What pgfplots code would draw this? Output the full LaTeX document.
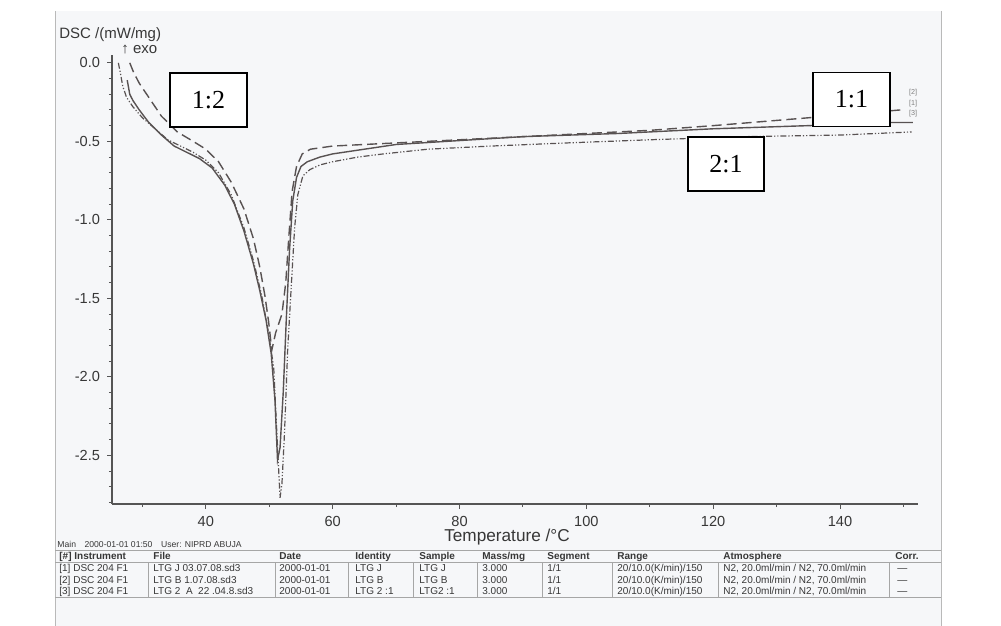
\documentclass[border=0pt]{standalone}
\usepackage{pgfplots}
\pgfplotsset{compat=1.18}
\usepackage{fontspec}
\setmainfont{Liberation Sans}
\newfontfamily\timesf{Liberation Serif}
\definecolor{ink}{RGB}{88,82,82}
\definecolor{txt}{RGB}{55,55,55}
\definecolor{page}{RGB}{246,247,249}
\newcommand\tf{\fontsize{5}{6}\selectfont}
\tikzset{tc/.style={anchor=base west,inner sep=0pt,font=\tf,text=txt}}
\newcommand\trow[9]{%
  \node[tc] at (59,{\ty+3.6}) {#1};
  \node[tc] at (153,{\ty+3.6}) {#2};
  \node[tc] at (279,{\ty+3.6}) {#3};
  \node[tc] at (355,{\ty+3.6}) {#4};
  \node[tc] at (419,{\ty+3.6}) {#5};
  \node[tc] at (482,{\ty+3.6}) {#6};
  \node[tc] at (547,{\ty+3.6}) {#7};
  \node[tc] at (617,{\ty+3.6}) {#8};
  \node[tc] at (723,{\ty+3.6}) {#9};
}
\begin{document}
\begin{tikzpicture}
\useasboundingbox (0,0) rectangle (500.5pt,-313pt);
\begin{scope}[x=0.5pt,y=-0.5pt]
\fill[page] (55,11) rectangle (941,626);
\draw[gray!55, line width=0.4pt] (55,11) -- (55,626) (941,11) -- (941,626);
\end{scope}

\begin{axis}[at={(56pt,-252pt)}, anchor=south west, scale only axis,
  width=403pt, height=224.5pt,
  xmin=25.2, xmax=152.3, ymin=-2.81, ymax=0.05,
  axis x line*=bottom, axis y line*=left,
  axis line style={txt!85, line width=0.7pt, -},
  xtick={40,60,...,140}, minor xtick={30,50,...,150},
  ytick={-2.5,-2,-1.5,-1,-0.5,0}, minor ytick={-2.8,-2.7,...,0.0},
  tick align=outside, major tick length=2.5pt, minor tick length=1.6pt,
  every tick/.style={txt!85, line width=0.5pt},
  ticklabel style={font=\fontsize{7.3}{8}\selectfont, text=txt},
  /pgf/number format/assume math mode=true,
  yticklabel style={/pgf/number format/.cd, fixed, fixed zerofill, precision=1},
  clip=false]
% [1] solid
\addplot[ink, line width=0.7pt] coordinates {
(27.6,-0.11) (28.0,-0.20) (28.5,-0.24) (29.5,-0.30) (31.0,-0.38) (33.0,-0.46)
(35.0,-0.53) (37.0,-0.57) (39.0,-0.61) (41.0,-0.67) (43.0,-0.78) (44.5,-0.90)
(46.0,-1.07) (47.5,-1.28) (48.5,-1.45) (49.5,-1.64) (50.3,-1.85) (50.9,-2.15)
(51.3,-2.53) (51.7,-2.45) (52.2,-2.10) (52.7,-1.62) (53.2,-1.19) (53.7,-0.88)
(54.3,-0.73) (55.0,-0.66) (56.0,-0.63) (58.0,-0.60) (60.0,-0.58) (65.0,-0.55)
(70.0,-0.52) (78.0,-0.50) (90.0,-0.47) (105.0,-0.45) (120.0,-0.42) (135.0,-0.40)
(148.0,-0.38) (151.5,-0.38)};
% [2] dashed
\addplot[ink, line width=0.7pt, dash pattern=on 5pt off 2.5pt] coordinates {
(28.0,0.00) (28.6,-0.06) (29.5,-0.13) (31.0,-0.22) (33.0,-0.34) (35.5,-0.44)
(38.0,-0.50) (40.0,-0.55) (42.0,-0.63) (44.0,-0.76) (46.0,-0.93) (47.5,-1.12)
(48.5,-1.30) (49.3,-1.48) (49.9,-1.65) (50.4,-1.83) (51.0,-1.72) (52.0,-1.60)
(52.6,-1.40) (53.1,-1.10) (53.6,-0.82) (54.3,-0.66) (55.2,-0.58) (56.5,-0.55)
(60.0,-0.53) (65.0,-0.52) (70.0,-0.51) (80.0,-0.49) (90.0,-0.47) (100.0,-0.45)
(110.0,-0.43) (120.0,-0.40) (135.0,-0.35) (149.5,-0.30)};
% [3] dash-dot-dot
\addplot[ink, line width=0.6pt, dash pattern=on 3pt off 1pt on 0.6pt off 1pt on 0.6pt off 1pt] coordinates {
(26.2,0.00) (26.5,-0.06) (26.9,-0.15) (27.5,-0.22) (28.5,-0.28) (30.0,-0.35)
(32.0,-0.42) (34.0,-0.49) (36.0,-0.53) (38.0,-0.57) (40.0,-0.62) (42.0,-0.70)
(44.0,-0.84) (46.0,-1.05) (47.5,-1.26) (48.8,-1.48) (49.8,-1.70) (50.7,-1.94)
(51.2,-2.36) (51.7,-2.77) (52.0,-2.68) (52.4,-2.36) (52.9,-1.83) (53.5,-1.40)
(54.0,-1.05) (54.5,-0.84) (55.3,-0.72) (56.4,-0.68) (58.0,-0.65) (60.0,-0.63)
(64.0,-0.60) (68.0,-0.58) (75.0,-0.55) (85.0,-0.53) (97.0,-0.51) (110.0,-0.49)
(125.0,-0.47) (140.0,-0.46) (151.3,-0.44)};
\end{axis}

\begin{scope}[x=0.5pt,y=-0.5pt]
% axis title texts
\node[anchor=west,inner sep=0pt,font=\fontsize{7.5}{8}\selectfont,text=txt] at (59,35) {DSC /(mW/mg)};
\node[anchor=west,inner sep=0pt,font=\fontsize{7.5}{8}\selectfont,text=txt] at (121,50) {↑ exo};
\node[inner sep=0pt,font=\fontsize{8.6}{9}\selectfont,text=txt] at (507,537) {Temperature /°C};
% curve tags
\node[inner sep=0pt,font=\fontsize{3.6}{4}\selectfont,text=gray] at (913,93) {[2]};
\node[inner sep=0pt,font=\fontsize{3.6}{4}\selectfont,text=gray] at (913,104) {[1]};
\node[inner sep=0pt,font=\fontsize{3.6}{4}\selectfont,text=gray] at (913,114) {[3]};
% boxes
\node[draw=black, line width=0.7pt, fill=white, minimum width=38.5pt, minimum height=27pt, inner sep=0pt,
  font=\timesf\fontsize{13}{14}\selectfont] at (208.5,100) {1:2};
\node[draw=black, line width=0.7pt, fill=white, minimum width=38.5pt, minimum height=27pt, inner sep=0pt,
  font=\timesf\fontsize{13}{14}\selectfont] at (851.5,99.5) {1:1};
\node[draw=black, line width=0.7pt, fill=white, minimum width=38pt, minimum height=27pt, inner sep=0pt,
  font=\timesf\fontsize{13}{14}\selectfont] at (726,164) {2:1};
% footer
\node[anchor=west,inner sep=0pt,font=\fontsize{4.3}{5}\selectfont,text=txt] at (57,544) {Main\quad 2000-01-01 01:50\quad User: NIPRD ABUJA};
% table
\draw[gray!70, line width=0.4pt] (55,550) -- (941,550) (55,562) -- (941,562) (55,597) -- (941,597);
\foreach \xx in {148,275,348,413,477,542,612,718,889} {\draw[gray!70, line width=0.4pt] (\xx,562) -- (\xx,597);}
\def\ty{556}
\trow{\bfseries [\#] Instrument}{\bfseries File}{\bfseries Date}{\bfseries Identity}{\bfseries Sample}{\bfseries Mass/mg}{\bfseries Segment}{\bfseries Range}{\bfseries Atmosphere}
\node[tc,font=\tf\bfseries] at (895,{\ty+3.6}) {Corr.};
\def\ty{568}
\trow{[1] DSC 204 F1}{LTG J 03.07.08.sd3}{2000-01-01}{LTG J}{LTG J}{3.000}{1/1}{20/10.0(K/min)/150}{N2, 20.0ml/min / N2, 70.0ml/min}
\node[tc] at (897,{\ty+3.6}) {---};
\def\ty{580}
\trow{[2] DSC 204 F1}{LTG B 1.07.08.sd3}{2000-01-01}{LTG B}{LTG B}{3.000}{1/1}{20/10.0(K/min)/150}{N2, 20.0ml/min / N2, 70.0ml/min}
\node[tc] at (897,{\ty+3.6}) {---};
\def\ty{591}
\trow{[3] DSC 204 F1}{LTG 2\ \ A\ \ 22 .04.8.sd3}{2000-01-01}{LTG 2 :1}{LTG2 :1}{3.000}{1/1}{20/10.0(K/min)/150}{N2, 20.0ml/min / N2, 70.0ml/min}
\node[tc] at (897,{\ty+3.6}) {---};
\end{scope}
\end{tikzpicture}
\end{document}
